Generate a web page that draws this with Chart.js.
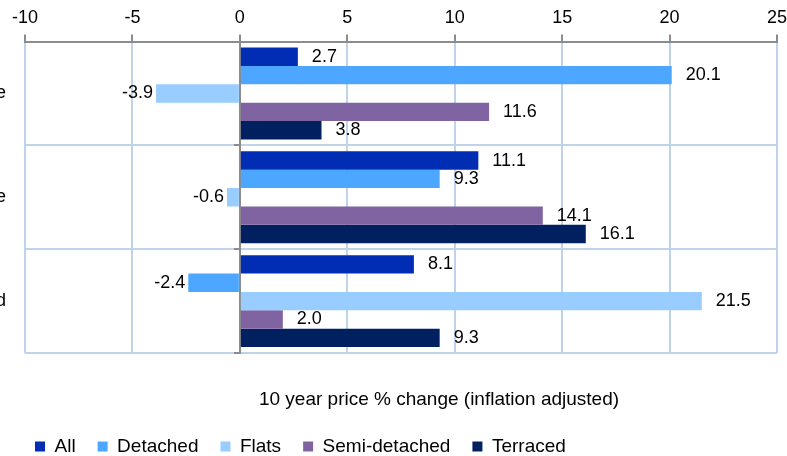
<!DOCTYPE html>
<html>
<head>
<meta charset="utf-8">
<script src="https://cdn.jsdelivr.net/npm/chart.js@4/dist/chart.umd.min.js"></script>
<style>
  html, body { margin: 0; padding: 0; background: #fff; overflow: hidden; }
  #wrap { width: 787px; height: 456px; }
</style>
</head>
<body>
<div id="wrap"><canvas id="price_change" width="787" height="456"></canvas></div>
<script>
const categories = ['e', 'e', 'd']
const allHomes = [2.7, 11.1, 8.1]
const detached = [20.1, 9.3, -2.4]
const flats = [-3.9, -0.6, 21.5]
const semiDetached = [11.6, 14.1, 2.0]
const terraced = [3.8, 16.1, 9.3]
const xTicks = [-10, -5, 0, 5, 10, 15, 20, 25]
const axisTitle = '10 year price % change (inflation adjusted)'

const FONT = 'Liberation Sans, Arial, sans-serif'
const gridBlue = '#bfd3ea'
const axisGrey = '#8c8c8c'

// value labels sit just past the end of each bar
const barValues = {
  id: 'barValues',
  afterDatasetsDraw(chart) {
    const ctx = chart.ctx
    ctx.save()
    ctx.font = '18px ' + FONT
    ctx.fillStyle = '#000'
    ctx.textBaseline = 'middle'
    chart.data.datasets.forEach((ds, i) => {
      chart.getDatasetMeta(i).data.forEach((bar, j) => {
        const v = ds.data[j]
        if (v >= 0) {
          ctx.textAlign = 'left'
          ctx.fillText(v.toFixed(1), bar.x + 14, bar.y)
        } else {
          ctx.textAlign = 'right'
          ctx.fillText(v.toFixed(1), bar.x - 3, bar.y)
        }
      })
    })
    ctx.restore()
  }
}

// the axis caption under the plot
const bottomCaption = {
  id: 'bottomCaption',
  afterDraw(chart) {
    const ctx = chart.ctx
    const area = chart.chartArea
    ctx.save()
    ctx.font = '19px ' + FONT
    ctx.fillStyle = '#000'
    ctx.textAlign = 'center'
    ctx.textBaseline = 'middle'
    ctx.fillText(axisTitle, (area.left + area.right) / 2 + 38, area.bottom + 47)
    ctx.restore()
  }
}

new Chart(document.getElementById('price_change'), {
  type: 'bar',
  data: {
    labels: categories,
    datasets: [
      { label: 'All', data: allHomes, backgroundColor: '#002db3' },
      { label: 'Detached', data: detached, backgroundColor: '#4da6ff' },
      { label: 'Flats', data: flats, backgroundColor: '#99ccff' },
      { label: 'Semi-detached', data: semiDetached, backgroundColor: '#8064a2' },
      { label: 'Terraced', data: terraced, backgroundColor: '#00205f' }
    ]
  },
  options: {
    indexAxis: 'y',
    responsive: false,
    animation: false,
    datasets: { bar: { categoryPercentage: 0.885, barPercentage: 1.0, borderWidth: 0 } },
    layout: { padding: { left: 13, right: 10, top: 1, bottom: -10 } },
    scales: {
      x: {
        type: 'linear',
        position: 'top',
        min: -10,
        max: 25,
        afterBuildTicks: s => { s.ticks = xTicks.map(v => ({ value: v })) },
        afterFit: s => { s.paddingRight = 0 },
        grid: {
          color: c => (c.tick && c.tick.value === 0) ? axisGrey : gridBlue,
          lineWidth: 2,
          tickColor: axisGrey,
          tickLength: 7,
          tickWidth: 2
        },
        border: { color: axisGrey, width: 2 },
        ticks: { padding: 6, color: '#000', font: { family: FONT, size: 18 } }
      },
      x2: {
        type: 'linear',
        position: 'bottom',
        display: true,
        grid: { display: false },
        border: { display: false },
        ticks: { display: false },
        afterFit: s => { s.height = 62 }
      },
      y: {
        position: { x: 0 },
        grid: {
          color: gridBlue,
          lineWidth: 2,
          tickColor: axisGrey,
          tickLength: 5,
          tickWidth: 2
        },
        border: { color: axisGrey, width: 2 },
        ticks: { display: false }
      },
      y2: {
        type: 'category',
        labels: categories,
        position: 'left',
        offset: true,
        grid: { display: false, drawTicks: false },
        border: { display: false },
        // mirrored so the names may run past the left edge without being clipped
        ticks: {
          mirror: true,
          crossAlign: 'far',
          padding: -29,
          color: '#000',
          font: { family: FONT, size: 18 }
        },
        afterFit: s => { s.width = 12 }
      }
    },
    plugins: {
      legend: {
        position: 'bottom',
        align: 'start',
        labels: {
          boxWidth: 10,
          boxHeight: 10,
          padding: 22,
          color: '#000',
          font: { family: FONT, size: 19 }
        }
      },
      tooltip: { enabled: false }
    }
  },
  plugins: [barValues, bottomCaption]
})
</script>
</body>
</html>
